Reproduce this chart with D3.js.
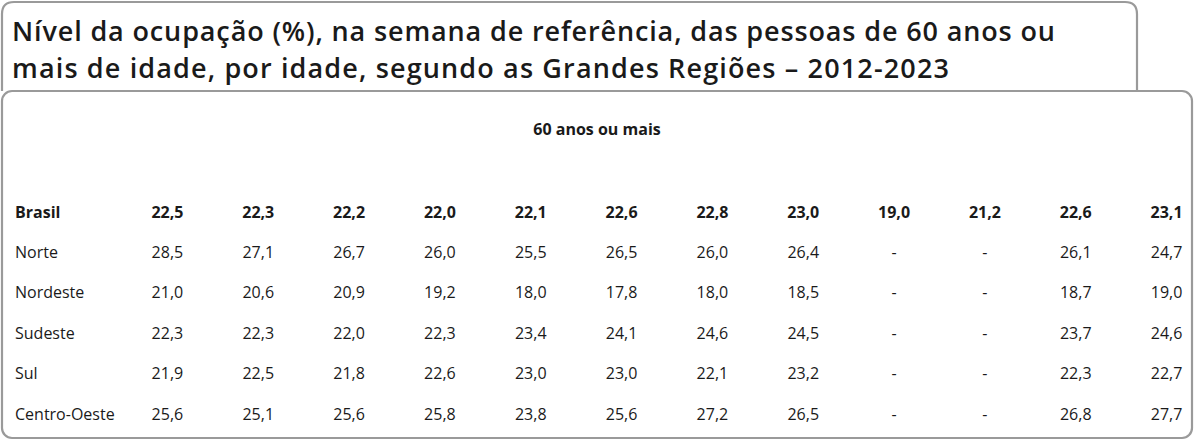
<!DOCTYPE html>
<html><head><meta charset="utf-8">
<script src="https://cdn.jsdelivr.net/npm/d3@7"></script>
<style>body{margin:0;background:#fff}text{font-family:"Open Sans",sans-serif;fill:#1a1a1a}</style>
</head><body><div id="chart"></div>
<script>
// Data
const years = [2012, 2013, 2014, 2015, 2016, 2017, 2018, 2019, 2020, 2021, 2022, 2023];
const regions = ["Brasil", "Norte", "Nordeste", "Sudeste", "Sul", "Centro-Oeste"];
const brasil = ["22,5", "22,3", "22,2", "22,0", "22,1", "22,6", "22,8", "23,0", "19,0", "21,2", "22,6", "23,1"];
const norte = ["28,5", "27,1", "26,7", "26,0", "25,5", "26,5", "26,0", "26,4", "-", "-", "26,1", "24,7"];
const nordeste = ["21,0", "20,6", "20,9", "19,2", "18,0", "17,8", "18,0", "18,5", "-", "-", "18,7", "19,0"];
const sudeste = ["22,3", "22,3", "22,0", "22,3", "23,4", "24,1", "24,6", "24,5", "-", "-", "23,7", "24,6"];
const sul = ["21,9", "22,5", "21,8", "22,6", "23,0", "23,0", "22,1", "23,2", "-", "-", "22,3", "22,7"];
const centroOeste = ["25,6", "25,1", "25,6", "25,8", "23,8", "25,6", "27,2", "26,5", "-", "-", "26,8", "27,7"];
const rows = [brasil, norte, nordeste, sudeste, sul, centroOeste];

const W = 1194, H = 441;
const svg = d3.select("#chart").append("svg").attr("width", W).attr("height", H);

// Frames
const stroke = "#9a9a9a";
svg.append("path")
    .attr("d", "M2,91 L2,14 Q2,2 14,2 L1125,2 Q1137,2 1137,14 L1137,91")
    .attr("fill", "none").attr("stroke", stroke).attr("stroke-width", 2.2);
svg.append("rect")
    .attr("x", 2).attr("y", 91).attr("width", 1190).attr("height", 347)
    .attr("rx", 10).attr("fill", "none").attr("stroke", stroke).attr("stroke-width", 2.2);

// Title
const title = svg.append("text").style("font-size", "27px").style("font-weight", 600);
title.append("tspan").attr("x", 12).attr("y", 41).attr("textLength", 1043)
    .text("Nível da ocupação (%), na semana de referência, das pessoas de 60 anos ou");
title.append("tspan").attr("x", 12).attr("y", 78).attr("textLength", 937)
    .text("mais de idade, por idade, segundo as Grandes Regiões – 2012-2023");

svg.append("text").attr("x", 597).attr("y", 135).attr("text-anchor", "middle")
    .style("font-size", "16px").style("font-weight", 700).text("60 anos ou mais");

// Scales
const x = d3.scaleBand().domain(years).range([122, 1212]);
const y = d3.scalePoint().domain(regions).range([212, 414]);

const g = svg.selectAll("g.row").data(rows).enter().append("g")
    .attr("transform", (d, i) => `translate(0,${y(regions[i])})`)
    .style("font-size", "16px")
    .style("font-weight", (d, i) => i === 0 ? 700 : 400);

g.append("text").attr("x", 15).attr("dy", "0.35em").text((d, i) => regions[i]);
g.selectAll("text.v").data(d => d).enter().append("text")
    .attr("class", "v")
    .attr("x", (d, j) => x(years[j]) + x.bandwidth() / 2)
    .attr("dy", "0.35em").attr("text-anchor", "middle")
    .text(d => d);
</script></body></html>
